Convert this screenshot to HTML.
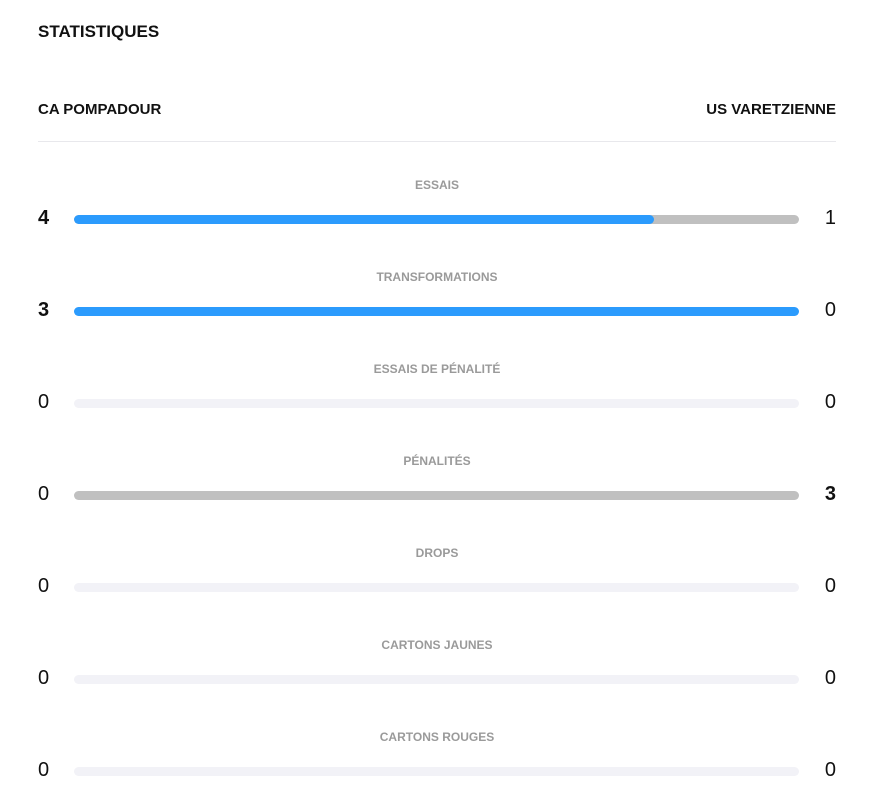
<!DOCTYPE html>
<html><head><meta charset="utf-8"><style>
body{margin:0;width:870px;height:807px;background:#fff;font-family:"Liberation Sans",sans-serif;position:relative;overflow:hidden}
.a{position:absolute}
.t{left:38px;top:22px;font-size:17px;font-weight:bold;color:#111}
.tm{top:101px;font-size:15px;font-weight:bold;color:#111}
.hr{left:38px;width:798px;top:141px;height:1px;background:#e8e8ec}
.lab{left:0;width:874px;text-align:center;font-size:12px;font-weight:bold;color:#9a9a9a}
.bar{left:74px;width:725px;height:9px;border-radius:5px;background:#f2f2f7;overflow:hidden}
.num{font-size:20px;color:#111;line-height:20px}
.l{left:38px}.r{right:34px;text-align:right}
.b{font-weight:bold}
</style></head><body>
<div class="a t">STATISTIQUES</div>
<div class="a tm" style="left:38px">CA POMPADOUR</div>
<div class="a tm" style="right:34px">US VARETZIENNE</div>
<div class="a hr"></div>

<div class="a lab" style="top:178px">ESSAIS</div>
<div class="a num l b" style="top:208px">4</div>
<div class="a num r" style="top:208px">1</div>
<div class="a bar" style="top:215px;background:#c0c0c0"><div style="width:580px;height:100%;background:#2b9bfd;border-radius:5px"></div></div>

<div class="a lab" style="top:270px">TRANSFORMATIONS</div>
<div class="a num l b" style="top:300px">3</div>
<div class="a num r" style="top:300px">0</div>
<div class="a bar" style="top:307px;background:#2b9bfd"></div>

<div class="a lab" style="top:362px">ESSAIS DE PÉNALITÉ</div>
<div class="a num l" style="top:392px">0</div>
<div class="a num r" style="top:392px">0</div>
<div class="a bar" style="top:399px"></div>

<div class="a lab" style="top:454px">PÉNALITÉS</div>
<div class="a num l" style="top:484px">0</div>
<div class="a num r b" style="top:484px">3</div>
<div class="a bar" style="top:491px;background:#c0c0c0"></div>

<div class="a lab" style="top:546px">DROPS</div>
<div class="a num l" style="top:576px">0</div>
<div class="a num r" style="top:576px">0</div>
<div class="a bar" style="top:583px"></div>

<div class="a lab" style="top:638px">CARTONS JAUNES</div>
<div class="a num l" style="top:668px">0</div>
<div class="a num r" style="top:668px">0</div>
<div class="a bar" style="top:675px"></div>

<div class="a lab" style="top:730px">CARTONS ROUGES</div>
<div class="a num l" style="top:760px">0</div>
<div class="a num r" style="top:760px">0</div>
<div class="a bar" style="top:767px"></div>
</body></html>
